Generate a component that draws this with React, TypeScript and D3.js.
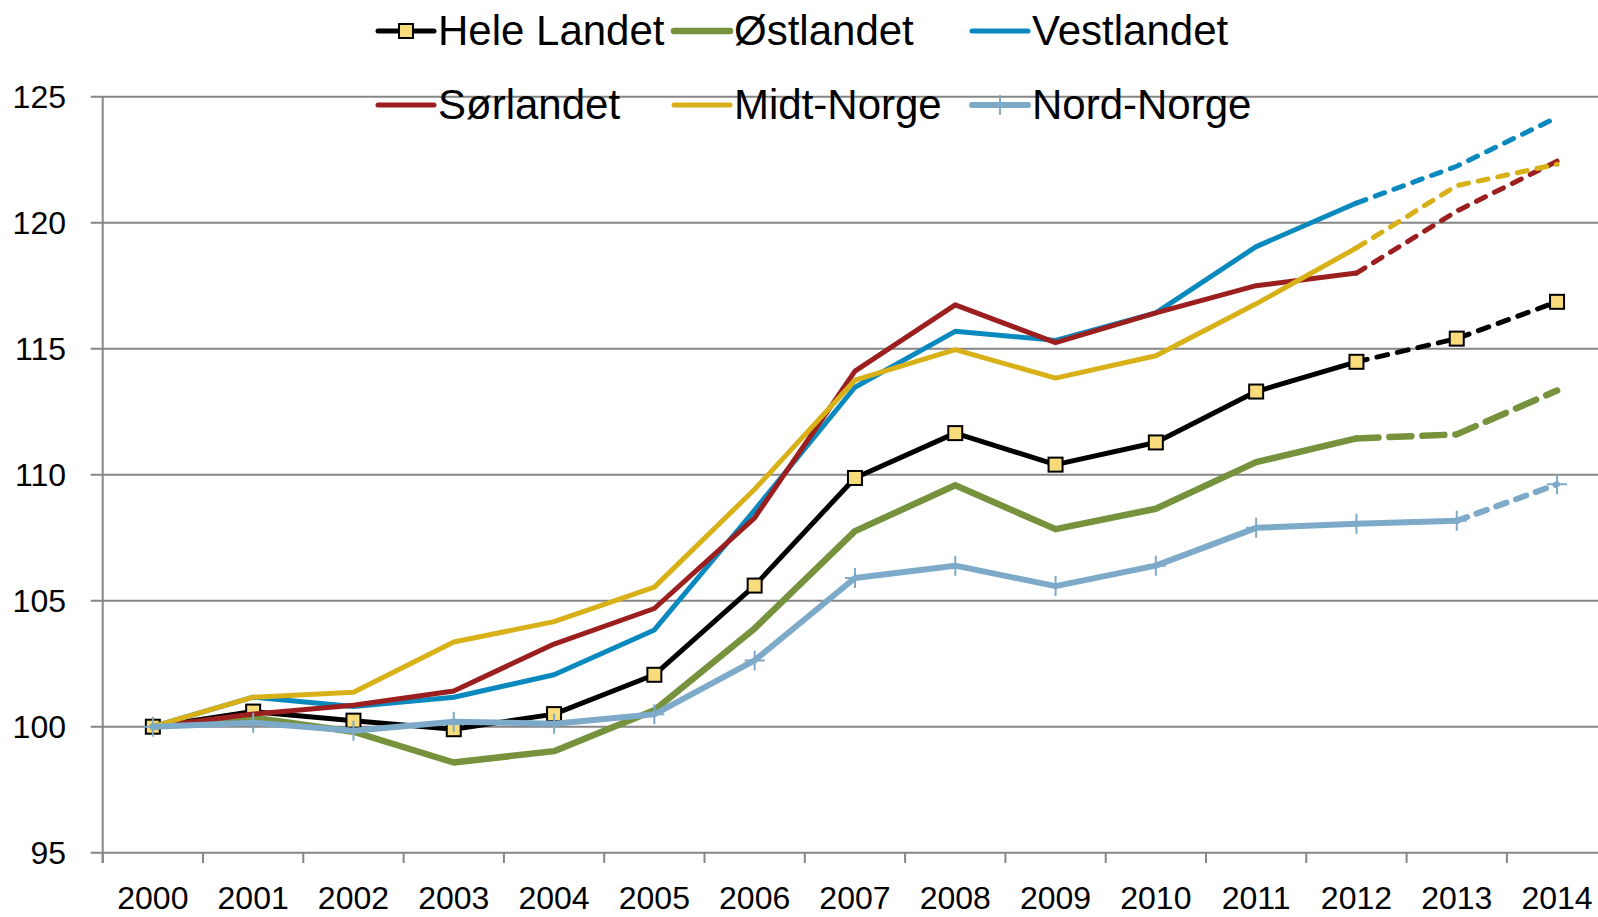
import React from "react";
import * as d3 from "d3";

const years: string[] = [
  "2000", "2001", "2002", "2003", "2004", "2005", "2006", "2007",
  "2008", "2009", "2010", "2011", "2012", "2013", "2014",
];

const yTicks: number[] = [95, 100, 105, 110, 115, 120, 125];

const heleLandet = [100, 100.6, 100.24, 99.9, 100.5, 102.06, 105.6, 109.87, 111.65, 110.4, 111.28, 113.3, 114.48, 115.4, 116.86];
const ostlandet = [100, 100.36, 99.8, 98.58, 99.03, 100.65, 103.9, 107.76, 109.58, 107.84, 108.65, 110.5, 111.44, 111.6, 113.34];
const vestlandet = [100, 101.17, 100.8, 101.17, 102.06, 103.84, 108.6, 113.47, 115.69, 115.33, 116.42, 119.05, 120.78, 122.24, 124.18];
const sorlandet = [100, 100.5, 100.85, 101.42, 103.28, 104.69, 108.29, 114.11, 116.74, 115.24, 116.42, 117.5, 118.0, 120.46, 122.44];
const midtNorge = [100, 101.17, 101.37, 103.36, 104.17, 105.54, 109.42, 113.75, 114.96, 113.83, 114.72, 116.78, 119.0, 121.47, 122.32];
const nordNorge = [100, 100.16, 99.84, 100.2, 100.12, 100.49, 102.63, 105.9, 106.39, 105.58, 106.39, 107.89, 108.05, 108.17, 109.62];

// last year drawn solid for each series, the rest is dashed
const solidUntil: string[] = ["2012", "2012", "2012", "2012", "2012", "2013"];

interface Series {
  name: string;
  values: number[];
  color: string;
  width: number;
  dash: string;
  marker: "square" | "plus" | "none";
}

const series: Series[] = [
  { name: "Hele Landet", values: heleLandet, color: "#000000", width: 5, dash: "11 10", marker: "square" },
  { name: "Østlandet", values: ostlandet, color: "#76923C", width: 6.5, dash: "22 11", marker: "none" },
  { name: "Vestlandet", values: vestlandet, color: "#0A89BE", width: 5, dash: "10 10", marker: "none" },
  { name: "Sørlandet", values: sorlandet, color: "#9C1F1F", width: 5, dash: "10 10", marker: "none" },
  { name: "Midt-Norge", values: midtNorge, color: "#D8B018", width: 5, dash: "10 10", marker: "none" },
  { name: "Nord-Norge", values: nordNorge, color: "#7DAAC9", width: 6, dash: "11 10", marker: "plus" },
];

const W = 1598;
const H = 917;
const left = 102.7;
const band = 100.3;
const gridColor = "#868686";
const font = "'Liberation Sans', Arial, sans-serif";

const x = d3.scaleBand<string>().domain(years).range([left, left + band * years.length]);
const y = d3.scaleLinear().domain([95, 125]).range([852.7, 96.7]);
const cx = (yr: string) => (x(yr) as number) + x.bandwidth() / 2;

const Marker: React.FC<{ s: Series; px: number; py: number }> = ({ s, px, py }) => {
  if (s.marker === "square") {
    return <rect x={px - 7} y={py - 7} width={14} height={14} fill="#F8DC7C" stroke="#000" strokeWidth={2} />;
  }
  if (s.marker === "plus") {
    return (
      <path d={`M${px - 10},${py}H${px + 10}M${px},${py - 10}V${py + 10}`} stroke={s.color} strokeWidth={2} />
    );
  }
  return null;
};

const App: React.FC = () => {
  const legendCols = [378, 674, 972];
  const legendRows = [31, 105];
  const gen = d3.line();

  return (
    <svg width={W} height={H} style={{ position: "absolute", left: 0, top: 0, background: "#fff" }}>
      {/* grid */}
      {yTicks.map((t) => (
        <line key={t} x1={90.7} x2={W} y1={y(t)} y2={y(t)} stroke={gridColor} strokeWidth={2} />
      ))}
      <line x1={left} x2={left} y1={y(125)} y2={863} stroke={gridColor} strokeWidth={2} />
      {years.map((yr) => (
        <line key={yr} x1={x(yr)} x2={x(yr)} y1={y(95)} y2={863} stroke={gridColor} strokeWidth={2} />
      ))}
      {yTicks.map((t) => (
        <text key={t} x={66} y={y(t)} dy="0.35em" textAnchor="end" fontFamily={font} fontSize={32} fill="#000">
          {t}
        </text>
      ))}
      {years.map((yr) => (
        <text key={yr} x={cx(yr)} y={909} textAnchor="middle" fontFamily={font} fontSize={32} fill="#000">
          {yr}
        </text>
      ))}

      {/* series */}
      {series.map((s, si) => {
        const cut = years.indexOf(solidUntil[si]);
        const pts: [number, number][] = s.values.map((v, i) => [cx(years[i]), y(v)]);
        return (
          <g key={s.name}>
            <path d={gen(pts.slice(0, cut + 1)) ?? ""} fill="none" stroke={s.color} strokeWidth={s.width} strokeLinejoin="round" strokeLinecap="round" />
            <path d={gen(pts.slice(cut)) ?? ""} fill="none" stroke={s.color} strokeWidth={s.width} strokeLinejoin="round" strokeLinecap="round" strokeDasharray={s.dash} />
            {pts.map(([px, py], i) => (
              <Marker key={i} s={s} px={px} py={py} />
            ))}
          </g>
        );
      })}

      {/* legend */}
      {series.map((s, i) => {
        const lx = legendCols[i % 3];
        const ly = legendRows[Math.floor(i / 3)];
        return (
          <g key={s.name}>
            <line x1={lx} x2={lx + 56} y1={ly} y2={ly} stroke={s.color} strokeWidth={s.width} strokeLinecap="round" />
            <Marker s={s} px={lx + 28} py={ly} />
            <text x={lx + 60} y={ly + 14} fontFamily={font} fontSize={42} fill="#000">
              {s.name}
            </text>
          </g>
        );
      })}
    </svg>
  );
};

export default App;
